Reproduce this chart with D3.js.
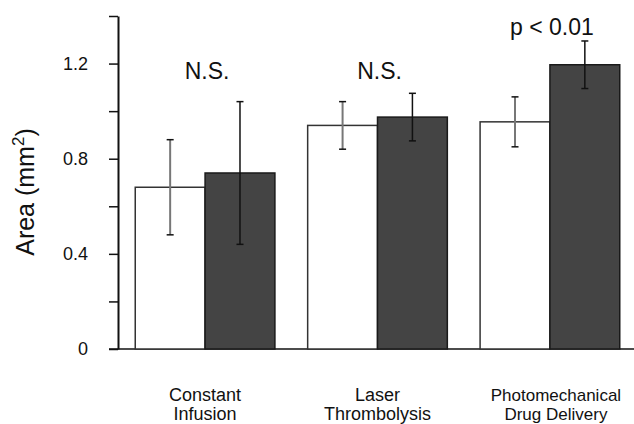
<!DOCTYPE html>
<html>
<head>
<meta charset="utf-8">
<script src="https://cdn.jsdelivr.net/npm/d3@7"></script>
<style>
  body { margin: 0; background: #fff; }
  svg { display: block; font-family: "Liberation Sans", Arial, Helvetica, sans-serif; }
</style>
</head>
<body>
<svg id="chart" width="634" height="424"></svg>
<script>
  var categories = ['Constant Infusion', 'Laser Thrombolysis', 'Photomechanical Drug Delivery'];
  var categoryLines = [['Constant', 'Infusion'], ['Laser', 'Thrombolysis'], ['Photomechanical', 'Drug Delivery']];
  var series = ['control', 'treated'];
  var controlMeans = [0.68, 0.94, 0.955];
  var controlErrors = [0.20, 0.10, 0.105];
  var treatedMeans = [0.74, 0.975, 1.195];
  var treatedErrors = [0.30, 0.10, 0.10];
  var significance = ['N.S.', 'N.S.', 'p < 0.01'];
  var significanceLevels = [1.135, 1.135, 1.32];
  var labelledTicks = [0, 0.4, 0.8, 1.2];
  var minorTicks = [0.2, 0.6, 1.0, 1.4];

  var svg = d3.select('#chart');

  var y = d3.scaleLinear().domain([0, 1.4]).range([349, 16]);
  var x0 = d3.scaleBand().domain(categories).range([118, 637])
    .paddingInner(0.19).paddingOuter(0.1);
  var x1 = d3.scaleBand().domain(series).range([0, x0.bandwidth()]).padding(0);

  var rows = categories.map(function(c, i) {
    return {
      category: c,
      bars: [
        { key: 'control', mean: controlMeans[i], err: controlErrors[i] },
        { key: 'treated', mean: treatedMeans[i], err: treatedErrors[i] }
      ]
    };
  });

  // x baseline
  svg.append('line')
    .attr('x1', 109).attr('x2', 634)
    .attr('y1', y(0)).attr('y2', y(0))
    .attr('stroke', '#111').attr('stroke-width', 1.5);

  var groups = svg.selectAll('g.group')
    .data(rows)
    .enter()
    .append('g')
    .attr('class', 'group')
    .attr('transform', function(d) { return 'translate(' + x0(d.category) + ',0)'; });

  var bar = groups.selectAll('g.bar')
    .data(function(d) { return d.bars; })
    .enter()
    .append('g')
    .attr('class', 'bar');

  bar.append('rect')
    .attr('x', function(d) { return x1(d.key); })
    .attr('y', function(d) { return y(d.mean); })
    .attr('width', x1.bandwidth())
    .attr('height', function(d) { return y(0) - y(d.mean); })
    .attr('fill', function(d) { return d.key === 'control' ? '#fff' : '#444'; })
    .attr('stroke', function(d) { return d.key === 'control' ? '#333' : '#1a1a1a'; })
    .attr('stroke-width', 1.5);

  // error bars
  bar.append('line')
    .attr('x1', function(d) { return x1(d.key) + x1.bandwidth() / 2; })
    .attr('x2', function(d) { return x1(d.key) + x1.bandwidth() / 2; })
    .attr('y1', function(d) { return y(d.mean + d.err); })
    .attr('y2', function(d) { return y(d.mean - d.err); })
    .attr('stroke', function(d) { return d.key === 'control' ? '#777' : '#111'; })
    .attr('stroke-width', function(d) { return d.key === 'control' ? 2 : 1.5; });

  [1, -1].forEach(function(sign) {
    bar.append('line')
      .attr('x1', function(d) { return x1(d.key) + x1.bandwidth() / 2 - 3.5; })
      .attr('x2', function(d) { return x1(d.key) + x1.bandwidth() / 2 + 3.5; })
      .attr('y1', function(d) { return y(d.mean + sign * d.err); })
      .attr('y2', function(d) { return y(d.mean + sign * d.err); })
      .attr('stroke', '#111')
      .attr('stroke-width', 1.5);
  });

  // significance labels
  svg.selectAll('text.sig')
    .data(categories)
    .enter()
    .append('text')
    .attr('class', 'sig')
    .attr('x', function(d) { return x0(d) + x0.bandwidth() / 2 + 2; })
    .attr('y', function(d, i) { return y(significanceLevels[i]); })
    .attr('text-anchor', 'middle')
    .attr('font-size', 23)
    .attr('fill', '#111')
    .text(function(d, i) { return significance[i]; });

  // category labels
  var catLabel = svg.selectAll('text.cat')
    .data(categories)
    .enter()
    .append('text')
    .attr('class', 'cat')
    .attr('text-anchor', 'middle')
    .attr('font-size', function(d, i) { return i === 2 ? 17 : 18; })
    .attr('fill', '#111');
  catLabel.selectAll('tspan')
    .data(function(d, i) { return categoryLines[i].map(function(t) { return { t: t, x: x0(d) + x0.bandwidth() / 2 + (i === 2 ? 6 : 0) }; }); })
    .enter()
    .append('tspan')
    .attr('x', function(d) { return d.x; })
    .attr('y', function(d, j) { return 401 + j * 19; })
    .text(function(d) { return d.t; });

  // y axis
  var yAxis = svg.append('g')
    .attr('transform', 'translate(118,0)')
    .call(d3.axisLeft(y)
      .tickValues(labelledTicks)
      .tickSize(9)
      .tickSizeOuter(0)
      .tickPadding(21)
      .tickFormat(function(d) { return d === 0 ? '0' : d3.format('.1f')(d); }));
  yAxis.selectAll('text').attr('font-size', 18).attr('fill', '#111')
    .attr('font-family', '"Liberation Sans", Arial, sans-serif');
  yAxis.select('.domain').attr('stroke', '#111').attr('stroke-width', 2);
  yAxis.selectAll('.tick line').attr('stroke', '#111').attr('stroke-width', 1.5);

  svg.append('g')
    .attr('transform', 'translate(118,0)')
    .call(d3.axisLeft(y).tickValues(minorTicks).tickSize(9).tickSizeOuter(0).tickFormat(''))
    .call(function(g) {
      g.select('.domain').remove();
      g.selectAll('.tick line').attr('stroke', '#111').attr('stroke-width', 1.5);
    });

  // y title
  var title = svg.append('text')
    .attr('transform', 'translate(34,' + y(0.66) + ') rotate(-90)')
    .attr('text-anchor', 'middle')
    .attr('font-size', 25)
    .attr('fill', '#111');
  title.append('tspan').text('Area (mm');
  title.append('tspan').attr('font-size', 17).attr('dy', -10).text('2');
  title.append('tspan').attr('dy', 10).text(')');
</script>
</body>
</html>
